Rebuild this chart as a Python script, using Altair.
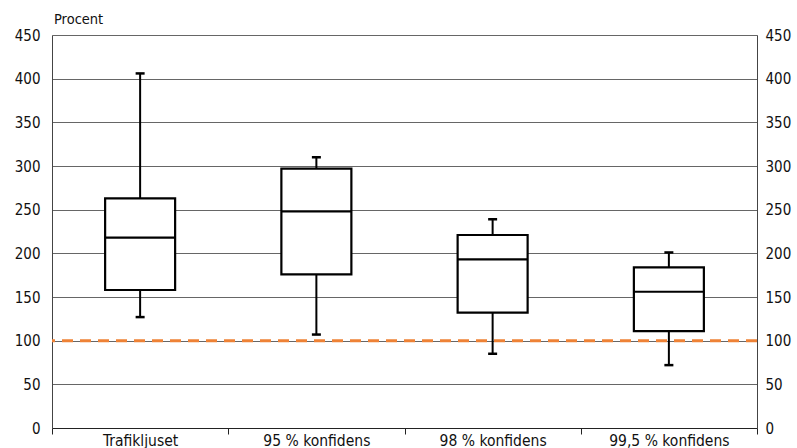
import altair as alt
import pandas as pd

# Box-plot summary per method (percent)
categories = ["Trafikljuset", "95 % konfidens", "98 % konfidens", "99,5 % konfidens"]
whisker_low = [127, 107, 85, 72]
quartile_1 = [158, 176, 132, 111]
median = [218, 248, 193, 156]
quartile_3 = [263, 297, 221, 184]
whisker_high = [406, 310, 239, 201]
reference_level = 100
y_ticks = [0, 50, 100, 150, 200, 250, 300, 350, 400, 450]

df = pd.DataFrame({
    "cat": categories,
    "low": whisker_low,
    "q1": quartile_1,
    "med": median,
    "q3": quartile_3,
    "high": whisker_high,
})

FONT = "DejaVu Sans Condensed"
W, H = 705, 393
BOX_W = 70

x_scale = alt.Scale(paddingInner=0, paddingOuter=0)
y_scale = alt.Scale(domain=[0, 450], nice=False)

# Same x definition on every layer so the shared axis merges into one
x_enc = alt.X("cat:N", sort=categories, title=None, scale=x_scale,
              axis=alt.Axis(labelAngle=0, tickBand="extent", tickSize=6,
                            domainColor="#222", tickColor="#222",
                            labelFont=FONT, labelFontSize=15.5, labelColor="#111",
                            labelPadding=-1, grid=False))


def yq(field):
    return alt.Y(field, scale=y_scale, title=None, axis=None)


base = alt.Chart(df)

left_axis = base.mark_rule(opacity=0).encode(
    x=x_enc,
    y=alt.Y("low:Q", scale=y_scale, title=None,
            axis=alt.Axis(orient="left", values=y_ticks, ticks=False,
                          domainColor="#444", gridColor="#666", gridWidth=1,
                          labelFont=FONT, labelFontSize=15, labelColor="#111",
                          labelPadding=12)),
)

right_axis = base.mark_rule(opacity=0).encode(
    x=x_enc,
    y=alt.Y("high:Q", scale=y_scale, title=None,
            axis=alt.Axis(orient="right", values=y_ticks, ticks=False, grid=False,
                          domainColor="#444",
                          labelFont=FONT, labelFontSize=15, labelColor="#111",
                          labelPadding=8)),
)

ref_line = alt.Chart(pd.DataFrame({"v": [reference_level]})).mark_rule(
    color="#ee8236", strokeWidth=3, strokeDash=[11, 7]
).encode(y=yq("v:Q"))

whisker_lo = base.mark_rule(color="black", strokeWidth=2).encode(
    x=x_enc, y=yq("low:Q"), y2="q1:Q")
whisker_hi = base.mark_rule(color="black", strokeWidth=2).encode(
    x=x_enc, y=yq("q3:Q"), y2="high:Q")

cap_lo = base.mark_tick(color="black", opacity=1, thickness=2.5, size=9,
                        orient="horizontal").encode(x=x_enc, y=yq("low:Q"))
cap_hi = base.mark_tick(color="black", opacity=1, thickness=2.5, size=9,
                        orient="horizontal").encode(x=x_enc, y=yq("high:Q"))

box = base.mark_bar(size=BOX_W, fill="white", stroke="black", strokeWidth=2.2,
                    opacity=1).encode(x=x_enc, y=yq("q1:Q"), y2="q3:Q")

mid = base.mark_tick(color="black", opacity=1, thickness=2.2, size=BOX_W,
                     orient="horizontal").encode(x=x_enc, y=yq("med:Q"))

procent = alt.Chart(pd.DataFrame({"t": ["Procent"]})).mark_text(
    text="Procent", font=FONT, fontSize=14.5, color="#111", align="left", baseline="bottom"
).encode(x=alt.value(2), y=alt.value(-8))

chart = alt.layer(
    left_axis, right_axis, ref_line, whisker_lo, whisker_hi, cap_lo, cap_hi, box, mid, procent
).resolve_axis(y="independent").properties(
    width=W, height=H,
    autosize=alt.AutoSizeParams(type="none"),
    padding={"left": 52, "top": 35, "right": 40, "bottom": 20},
).configure_view(stroke=None).configure(background="white")

chart.save("out.html", embed_options={"renderer": "svg", "actions": False})
